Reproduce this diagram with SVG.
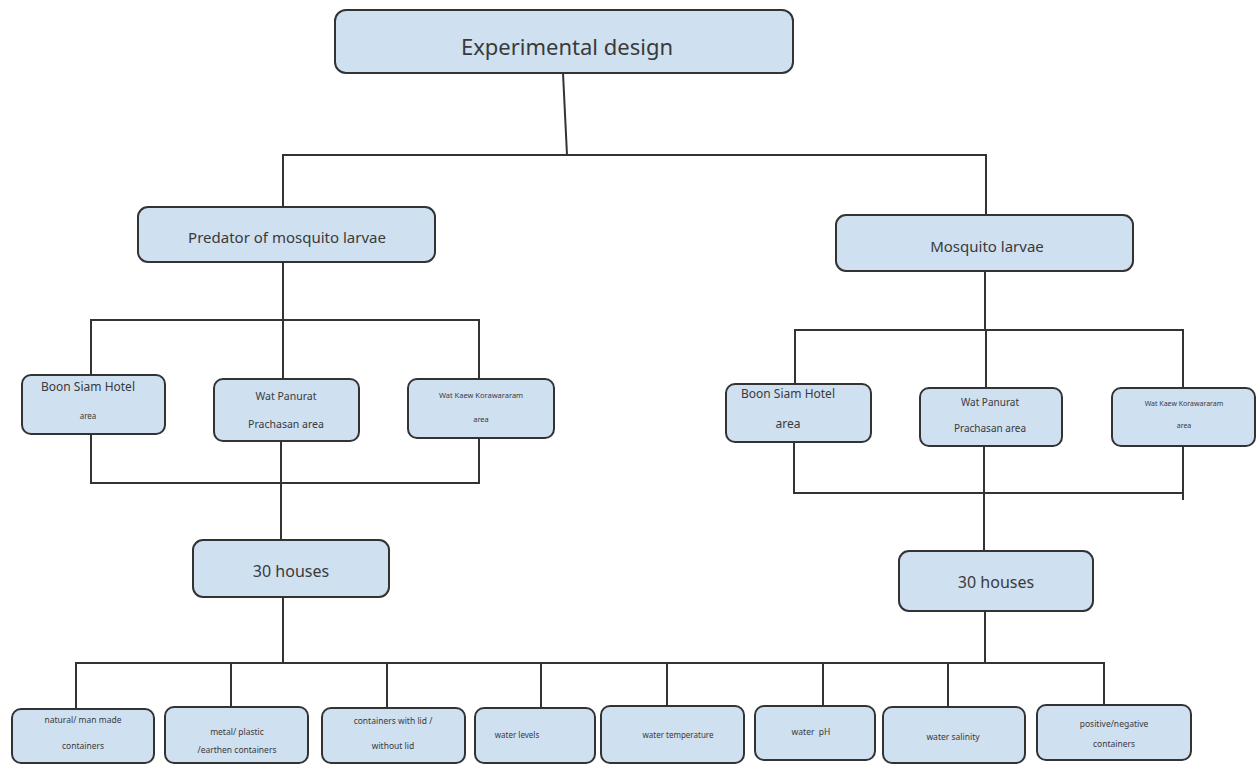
<svg xmlns="http://www.w3.org/2000/svg" width="1257" height="764" viewBox="0 0 1257 764">
<style>
.box{fill:#cfe0f1;stroke:#333;stroke-width:2;}
.t{font-family:"Noto Sans","DejaVu Sans",sans-serif;fill:#3a3a3a;text-anchor:middle;}
.ln{fill:none;stroke:#333;stroke-width:2;}
</style>
<rect width="1257" height="764" fill="#fff"/>
<g id="connectors" class="ln">
<path d="M563 73 L567 155"/>
<path d="M283 207 V155 H986 V215"/>
<path d="M283 262 V320"/>
<path d="M91 375 V320 H479 V379"/>
<path d="M283 320 V379"/>
<path d="M91 434 V483 H479 V438"/>
<path d="M281 441 V540"/>
<path d="M985 271 V330"/>
<path d="M795 384 V330 H1183 V388"/>
<path d="M986 330 V388"/>
<path d="M794 442 V493 H1183 V438"/>
<path d="M1183 493 V500"/>
<path d="M984 446 V551"/>
<path d="M283 597 V663"/>
<path d="M985 611 V663"/>
<path d="M76 709 V663 H1104 V705"/>
<path d="M231 663 V707"/>
<path d="M387 663 V708"/>
<path d="M541 663 V708"/>
<path d="M667 663 V706"/>
<path d="M823 663 V706"/>
<path d="M948 663 V707"/>
</g>
<g id="n-top"><rect class="box" x="335" y="10" width="458" height="63" rx="11"/><text class="t" x="567" y="55" font-size="22">Experimental design</text></g>
<g id="n-predator"><rect class="box" x="138" y="207" width="297" height="55" rx="10"/><text class="t" x="287" y="243" font-size="15">Predator of mosquito larvae</text></g>
<g id="n-larvae"><rect class="box" x="836" y="215" width="297" height="56" rx="10"/><text class="t" x="987" y="252" font-size="15">Mosquito larvae</text></g>
<g id="n-l-boon"><rect class="box" x="22" y="375" width="143" height="59" rx="9"/><text class="t" x="88" y="391" font-size="12">Boon Siam Hotel</text><text class="t" x="88" y="419" font-size="8">area</text></g>
<g id="n-l-wat"><rect class="box" x="214" y="379" width="145" height="62" rx="9"/><text class="t" x="286" y="400" font-size="10.5">Wat Panurat</text><text class="t" x="286" y="428" font-size="10.5">Prachasan area</text></g>
<g id="n-l-kaen"><rect class="box" x="408" y="379" width="146" height="59" rx="9"/><text class="t" x="481" y="398" font-size="7.5">Wat Kaew Korawararam</text><text class="t" x="481" y="422" font-size="7.5">area</text></g>
<g id="n-r-boon"><rect class="box" x="726" y="384" width="145" height="58" rx="9"/><text class="t" x="788" y="398" font-size="12">Boon Siam Hotel</text><text class="t" x="788" y="428" font-size="12">area</text></g>
<g id="n-r-wat"><rect class="box" x="920" y="388" width="142" height="58" rx="9"/><text class="t" x="990" y="406" font-size="10">Wat Panurat</text><text class="t" x="990" y="432" font-size="10">Prachasan area</text></g>
<g id="n-r-kaen"><rect class="box" x="1112" y="388" width="143" height="58" rx="9"/><text class="t" x="1184" y="406" font-size="7">Wat Kaew Korawararam</text><text class="t" x="1184" y="428" font-size="7">area</text></g>
<g id="n-l-houses"><rect class="box" x="193" y="540" width="196" height="57" rx="10"/><text class="t" x="291" y="577" font-size="16">30 houses</text></g>
<g id="n-r-houses"><rect class="box" x="899" y="551" width="194" height="60" rx="10"/><text class="t" x="996" y="588" font-size="16">30 houses</text></g>
<g id="n-b1"><rect class="box" x="12" y="709" width="142" height="54" rx="9"/><text class="t" x="83" y="723" font-size="8.5">natural/ man made</text><text class="t" x="83" y="749" font-size="8.5">containers</text></g>
<g id="n-b2"><rect class="box" x="165" y="707" width="143" height="56" rx="9"/><text class="t" x="237" y="735" font-size="8.5">metal/ plastic</text><text class="t" x="237" y="753" font-size="8.5">/earthen containers</text></g>
<g id="n-b3"><rect class="box" x="322" y="708" width="143" height="55" rx="9"/><text class="t" x="393" y="724" font-size="8.5">containers with lid /</text><text class="t" x="393" y="749" font-size="8.5">without lid</text></g>
<g id="n-b4"><rect class="box" x="475" y="708" width="120" height="55" rx="9"/><text class="t" x="517" y="738" font-size="8">water levels</text></g>
<g id="n-b5"><rect class="box" x="601" y="706" width="143" height="57" rx="9"/><text class="t" x="678" y="738" font-size="8">water temperature</text></g>
<g id="n-b6"><rect class="box" x="755" y="706" width="120" height="54" rx="9"/><text class="t" x="811" y="735" font-size="8.5" xml:space="preserve">water  pH</text></g>
<g id="n-b7"><rect class="box" x="883" y="707" width="142" height="56" rx="9"/><text class="t" x="953" y="740" font-size="8.5">water salinity</text></g>
<g id="n-b8"><rect class="box" x="1037" y="705" width="154" height="55" rx="9"/><text class="t" x="1114" y="727" font-size="8.5">positive/negative</text><text class="t" x="1114" y="747" font-size="8.5">containers</text></g>
</svg>
